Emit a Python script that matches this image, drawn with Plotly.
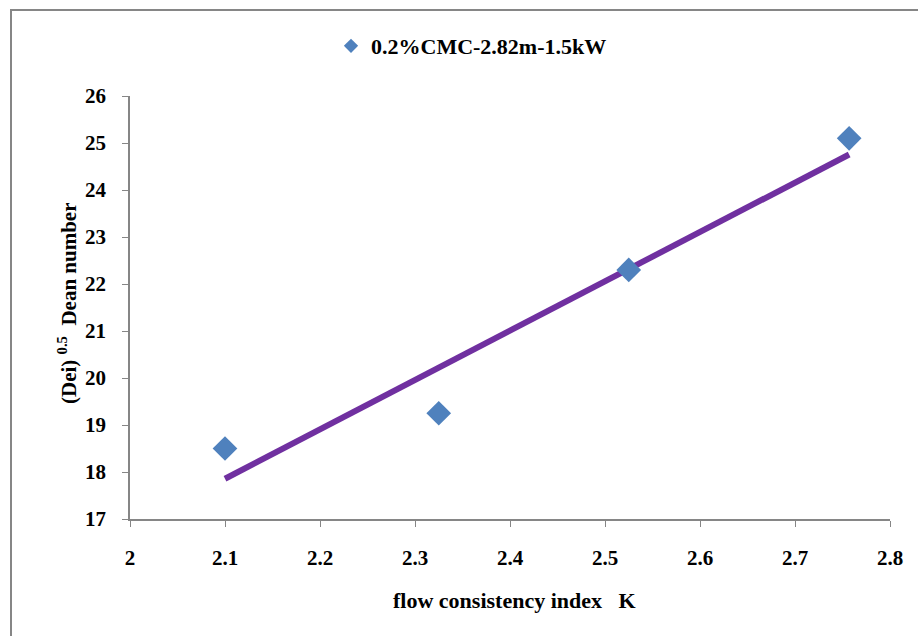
import numpy as np
import plotly.graph_objects as go

k_values = [2.1, 2.325, 2.525, 2.757]
dean_values = [18.5, 19.25, 22.3, 25.1]
series_name = "0.2%CMC-2.82m-1.5kW"
x_ticks = [2, 2.1, 2.2, 2.3, 2.4, 2.5, 2.6, 2.7, 2.8]
y_ticks = list(range(17, 27))

slope, intercept = np.polyfit(k_values, dean_values, 1)
trend_x = [min(k_values), max(k_values)]
trend_y = [slope * v + intercept for v in trend_x]

W, H = 918, 636
ml, mr, mt, mb = 130, 28, 96, 117
pw = W - ml - mr
ph = H - mt - mb

def px_x(p):
    return (p - ml) / pw

def px_y(p):
    return (H - mb - p) / ph

font_family = "Liberation Serif, Times New Roman, serif"

fig = go.Figure()
fig.add_trace(go.Scatter(
    x=trend_x, y=trend_y, mode="lines",
    line=dict(color="#7030A0", width=6),
    showlegend=False, hoverinfo="skip"))
fig.add_trace(go.Scatter(
    x=k_values, y=dean_values, mode="markers", name=series_name,
    marker=dict(symbol="diamond", size=19, color="#4F81BD"),
    showlegend=False))
# legend entry (small marker, as in the reference)
fig.add_trace(go.Scatter(
    x=[None], y=[None], mode="markers", name=series_name,
    marker=dict(symbol="diamond", size=11, color="#4F81BD"),
    showlegend=True))

axis_common = dict(
    showgrid=False, zeroline=False, showline=True, linecolor="#868686",
    linewidth=1.5, ticks="outside", tickcolor="#868686", ticklen=6,
    tickfont=dict(family=font_family, size=21, color="black", weight="bold"),
)
fig.update_xaxes(range=[2, 2.8], tickvals=x_ticks,
                 ticktext=[f"{v:g}" for v in x_ticks], ticklabelstandoff=13, **axis_common)
fig.update_yaxes(range=[17, 26], tickvals=y_ticks, ticklabelstandoff=12, **axis_common)

fig.update_layout(
    width=W, height=H,
    margin=dict(l=ml, r=mr, t=mt, b=mb),
    paper_bgcolor="white", plot_bgcolor="white",
    font=dict(family=font_family, color="black"),
    showlegend=True,
    legend=dict(orientation="h", x=px_x(331), y=px_y(46), xanchor="left", yanchor="middle",
                font=dict(family=font_family, size=22, color="black", weight="bold"),
                bgcolor="rgba(0,0,0,0)", itemsizing="trace"),
    annotations=[
        dict(text="(Dei) <sup>0.5</sup>  Dean number", textangle=-90,
             x=px_x(67), y=px_y(303), xref="paper", yref="paper",
             xanchor="center", yanchor="middle",
             showarrow=False, font=dict(family=font_family, size=21, weight="bold")),
        dict(text="flow consistency index   K",
             x=px_x(514), y=px_y(600), xref="paper", yref="paper",
             xanchor="center", yanchor="middle",
             showarrow=False, font=dict(family=font_family, size=22, weight="bold")),
    ],
    shapes=[dict(type="rect", xref="paper", yref="paper",
                 x0=px_x(11), x1=px_x(940), y0=px_y(660), y1=px_y(10),
                 line=dict(color="#868686", width=2), layer="below")],
)

fig.write_html("out.html")
